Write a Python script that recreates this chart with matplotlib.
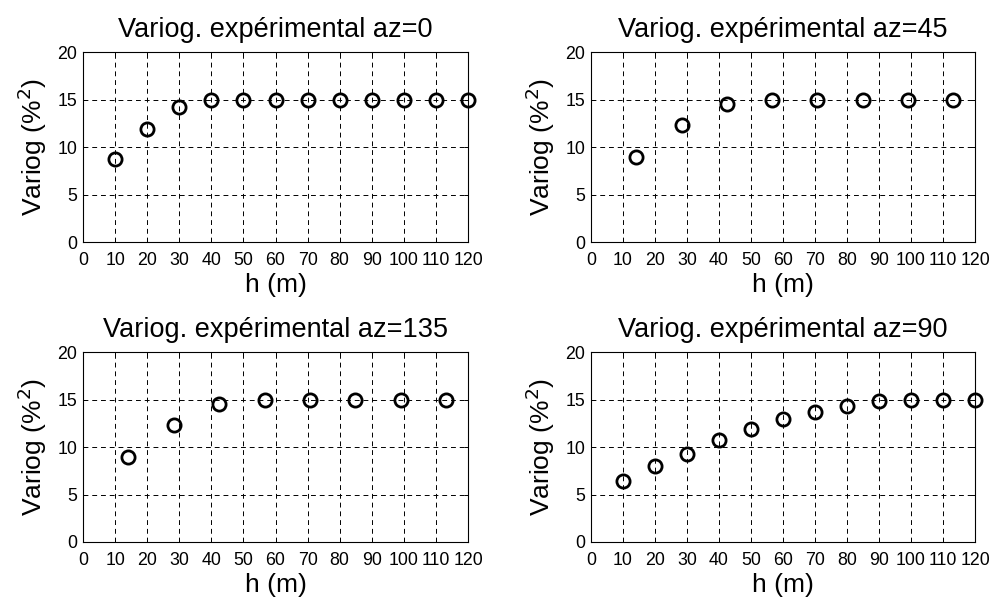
import matplotlib
matplotlib.use('Agg')
import matplotlib.pyplot as plt
import numpy as np

plt.rcParams['font.family'] = ['Liberation Sans', 'DejaVu Sans']

# lags (m)
h_0 = [10, 20, 30, 40, 50, 60, 70, 80, 90, 100, 110, 120]
v_0 = [8.7, 11.9, 14.2, 15.0, 15.0, 15.0, 15.0, 15.0, 15.0, 15.0, 15.0, 15.0]

h_45 = [14.1, 28.3, 42.4, 56.6, 70.7, 84.9, 99.0, 113.1]
v_45 = [9.0, 12.3, 14.55, 15.0, 15.0, 15.0, 15.0, 15.0]

h_135 = [14.1, 28.3, 42.4, 56.6, 70.7, 84.9, 99.0, 113.1]
v_135 = [9.0, 12.3, 14.5, 15.0, 15.0, 15.0, 15.0, 15.0]

h_90 = [10, 20, 30, 40, 50, 60, 70, 80, 90, 100, 110, 120]
v_90 = [6.45, 8.0, 9.3, 10.7, 11.9, 12.95, 13.7, 14.35, 14.85, 15.0, 15.0, 15.0]

titles = ['Variog. expérimental az=0', 'Variog. expérimental az=45',
          'Variog. expérimental az=135', 'Variog. expérimental az=90']
xticks = np.arange(0, 121, 10)
yticks = [0, 5, 10, 15, 20]

fig = plt.figure(figsize=(9.93, 6.01), dpi=100)
# MATLAB-like subplot positions
boxes = [[0.0836, 0.5973, 0.3877, 0.316],
         [0.5952, 0.5973, 0.3867, 0.316],
         [0.0836, 0.0982, 0.3877, 0.316],
         [0.5952, 0.0982, 0.3867, 0.316]]
series = [(h_0, v_0), (h_45, v_45), (h_135, v_135), (h_90, v_90)]

for box, (hx, vy), title in zip(boxes, series, titles):
    ax = fig.add_axes(box)
    ax.plot(hx, vy, 'o', markerfacecolor='none', markeredgecolor='k',
            markersize=9.5, markeredgewidth=2.0, clip_on=False, zorder=3)
    ax.set_xlim(0, 120)
    ax.set_ylim(0, 20)
    ax.set_xticks(xticks)
    ax.set_yticks(yticks)
    ax.grid(True, color='k', linestyle=(0, (5, 4)), linewidth=0.7)
    ax.tick_params(direction='in', top=True, right=True, labelsize=12.8,
                   length=3, width=0.7)
    ax.tick_params(axis='x', pad=7)
    ax.tick_params(axis='y', pad=4)
    for s in ax.spines.values():
        s.set_linewidth(0.8)
    ax.set_title(title, fontsize=19.5, pad=11)
    ax.set_xlabel('h (m)', fontsize=19, labelpad=3)
    ax.set_ylabel('Variog (%$^2$)', fontsize=19, labelpad=6)

fig.savefig('out.png', dpi=100)
